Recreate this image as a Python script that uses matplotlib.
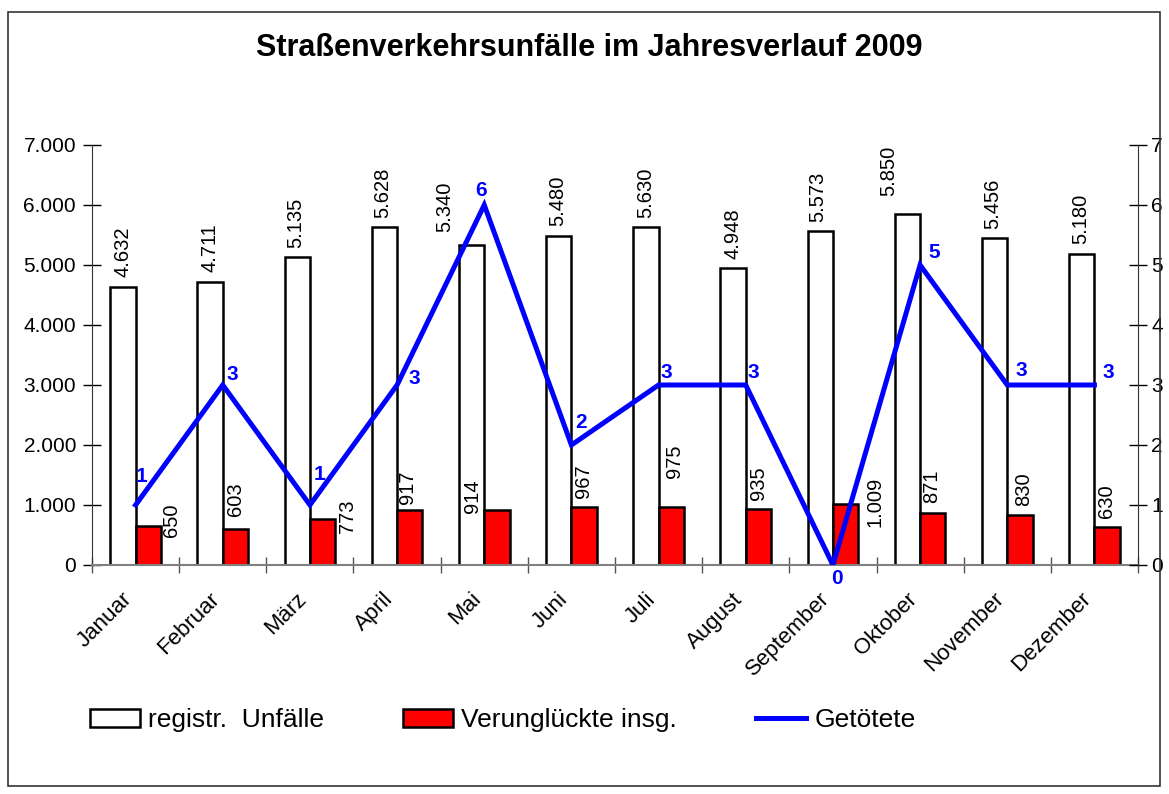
import matplotlib
matplotlib.use('Agg')
import matplotlib.pyplot as plt
import matplotlib.transforms as mtrans
from matplotlib.patches import Rectangle, Patch
from matplotlib.lines import Line2D
from matplotlib.ticker import FuncFormatter, FixedLocator

plt.rcParams['font.family'] = ['Liberation Sans', 'DejaVu Sans']

# data
monate = ['Januar', 'Februar', 'März', 'April', 'Mai', 'Juni', 'Juli',
          'August', 'September', 'Oktober', 'November', 'Dezember']
unfaelle = [4632, 4711, 5135, 5628, 5340, 5480, 5630, 4948, 5573, 5850, 5456, 5180]
verunglueckte = [650, 603, 773, 917, 914, 967, 975, 935, 1009, 871, 830, 630]
getoetete = [1, 3, 1, 3, 6, 2, 3, 3, 0, 5, 3, 3]

# label nudges in pixels (dx, dy up), as placed in the original chart
nudge_weiss = [(0, 10), (0, 10), (-1.5, 9), (-1.5, 9), (-27, 13), (-1.5, 10),
               (0, 9), (0, 9), (-2.5, 9), (-18.5, 18), (-1.5, 9), (-1, 10)]
nudge_rot = [(23.5, 6), (0, 29.5), (25, 2), (-2, 23), (-24.5, 14), (-1, 26),
             (3.5, 45.5), (0, 25.5), (29.5, 3), (-1, 26), (3.5, 26), (-1, 26)]
nudge_blau = [(6, 28), (10, 10), (10, 30), (17, 6), (-3, 15), (10, 22),
              (8, 12), (8, 12), (4, -13), (14, 13), (14, 15), (14, 12)]

W, H = 1169, 794
fig = plt.figure(figsize=(W / 100, H / 100), dpi=100)
ax = fig.add_axes([92 / W, 1 - 565 / H, 1046 / W, 420 / H])
px = 0.72  # pixel -> points

def punkt(v):
    return f'{v:,}'.replace(',', '.')

x = list(range(len(monate)))
bw = 0.29
ax.bar([i - bw / 2 for i in x], unfaelle, bw, color='white', edgecolor='black', linewidth=1.8)
ax.bar([i + bw / 2 for i in x], verunglueckte, bw, color='#ff0000', edgecolor='black', linewidth=1.8)

for i in x:
    dx, dy = nudge_weiss[i]
    ax.annotate(punkt(unfaelle[i]), (i - bw / 2, unfaelle[i]), xytext=(dx * px, dy * px),
                textcoords='offset points', rotation=90, ha='center', va='bottom', fontsize=14.5)
    dx, dy = nudge_rot[i]
    ax.annotate(punkt(verunglueckte[i]), (i + bw / 2, verunglueckte[i]), xytext=(dx * px, dy * px),
                textcoords='offset points', rotation=90, ha='center', va='center', fontsize=14.5)

ax.set_xlim(-0.5, len(monate) - 0.5)
ax.set_ylim(0, 7000)
ax.set_yticks(range(0, 7001, 1000))
ax.yaxis.set_major_formatter(FuncFormatter(lambda v, p: punkt(int(v))))
ax.tick_params(axis='y', direction='inout', length=13, width=1, labelsize=15, pad=5)
ax.set_xticks(x)
ax.set_xticklabels(monate, rotation=45, ha='right', va='top', rotation_mode='anchor', fontsize=16)
ax.tick_params(axis='x', which='major', length=0, pad=17)
shift = mtrans.ScaledTranslation(-14 / 100, 0, fig.dpi_scale_trans)
for lab in ax.get_xticklabels():
    lab.set_transform(lab.get_transform() + shift)
ax.xaxis.set_minor_locator(FixedLocator([i + 0.5 for i in range(-1, len(monate))]))
ax.tick_params(axis='x', which='minor', direction='inout', length=12, width=1, color='#555555')
ax.spines['top'].set_visible(False)
ax.spines['right'].set_visible(False)
ax.spines['bottom'].set_color('#808080')
ax.spines['bottom'].set_linewidth(1.5)
ax.spines['left'].set_color('#333333')

ax2 = ax.twinx()
ax2.plot(x, getoetete, color='#0000ff', linewidth=3.6, solid_joinstyle='miter')
for i in x:
    dx, dy = nudge_blau[i]
    ax2.annotate(str(getoetete[i]), (i, getoetete[i]), xytext=(dx * px, dy * px),
                 textcoords='offset points', ha='center', va='center',
                 fontsize=15, fontweight='bold', color='#0000ff')
ax2.set_ylim(0, 7)
ax2.set_yticks(range(0, 8))
ax2.tick_params(axis='y', direction='inout', length=13, width=1, labelsize=15, pad=3)
for s in ['top', 'left', 'bottom']:
    ax2.spines[s].set_visible(False)
ax2.spines['right'].set_color('#333333')

fig.text(0.504, 1 - 48 / H, 'Straßenverkehrsunfälle im Jahresverlauf 2009',
         ha='center', va='center', fontsize=22, fontweight='bold')

handles = [Patch(facecolor='white', edgecolor='black', linewidth=1.8),
           Patch(facecolor='#ff0000', edgecolor='black', linewidth=1.8),
           Line2D([], [], color='#0000ff', linewidth=3.6)]
fig.legend(handles, ['registr.  Unfälle', 'Verunglückte insg.', 'Getötete'],
           loc='center left', bbox_to_anchor=(90 / W, 1 - 720 / H), ncol=3, frameon=False,
           fontsize=19, handlelength=1.9, handletextpad=0.3, columnspacing=3.0,
           borderpad=0, borderaxespad=0)

fig.patches.append(Rectangle((8 / W, 1 - 786 / H), 1152 / W, 774 / H, transform=fig.transFigure,
                             fill=False, edgecolor='#333333', linewidth=1.2))

fig.savefig('out.png', dpi=100)
